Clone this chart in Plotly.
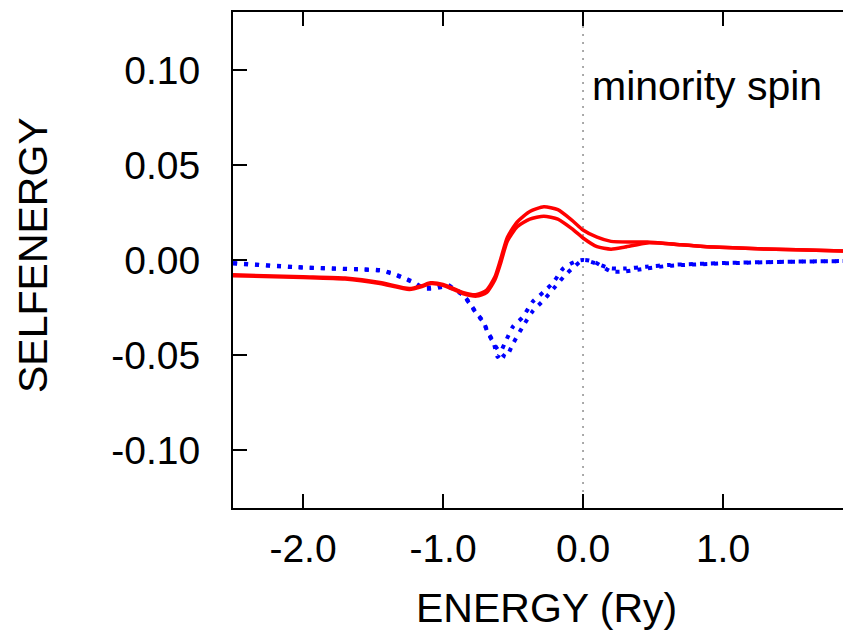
import plotly.graph_objects as go

# ---- data ----
red_upper_E = [-2.5, -2.0, -1.7, -1.45, -1.24, -1.15, -1.09, -1.0, -0.86, -0.76, -0.69, -0.63, -0.59,
               -0.54, -0.47, -0.38, -0.28, -0.18, -0.08, 0.0, 0.1, 0.2, 0.35, 0.46, 0.7, 0.93, 1.3, 1.6, 1.914]
red_upper_S = [-0.0078, -0.0088, -0.0095, -0.0118, -0.0150, -0.0135, -0.0120, -0.0128, -0.0170, -0.0182,
               -0.0160, -0.0090, 0.0000, 0.0120, 0.0200, 0.0255, 0.0280, 0.0265, 0.0210, 0.0158, 0.0120,
               0.0098, 0.0095, 0.0095, 0.0080, 0.0068, 0.0058, 0.0052, 0.0046]

red_lower_E = [-2.5, -2.0, -1.7, -1.45, -1.24, -1.15, -1.09, -1.0, -0.86, -0.76, -0.69, -0.63, -0.59,
               -0.54, -0.47, -0.38, -0.28, -0.18, -0.08, 0.0, 0.1, 0.2, 0.3, 0.46, 0.7, 0.93, 1.3, 1.6, 1.914]
red_lower_S = [-0.0083, -0.0092, -0.0100, -0.0124, -0.0155, -0.0140, -0.0124, -0.0133, -0.0176, -0.0190,
               -0.0172, -0.0105, -0.0020, 0.0100, 0.0175, 0.0215, 0.0230, 0.0215, 0.0165, 0.0116, 0.0070,
               0.0057, 0.0068, 0.0090, 0.0080, 0.0068, 0.0058, 0.0052, 0.0046]

blue_a_E = [-2.5, -2.04, -1.57, -1.45, -1.36, -1.29, -1.21, -1.14, -1.06, -0.97, -0.93, -0.86, -0.81,
            -0.76, -0.71, -0.68, -0.64, -0.61, -0.56, -0.50, -0.43, -0.36, -0.28, -0.21, -0.14, -0.06,
            0.0, 0.1, 0.19, 0.3, 0.45, 0.62, 1.0, 1.4, 1.914]
blue_a_S = [-0.0016, -0.0037, -0.0049, -0.0053, -0.0070, -0.0090, -0.0116, -0.0147, -0.0142, -0.0130,
            -0.0147, -0.0180, -0.0226, -0.0280, -0.0326, -0.0380, -0.0430, -0.0510, -0.0440, -0.0350,
            -0.0300, -0.0220, -0.0167, -0.0116, -0.0043, -0.0010, 0.0000, -0.0020, -0.0043, -0.0045,
            -0.0035, -0.0026, -0.0016, -0.0010, -0.0005]

blue_b_E = [-2.5, -2.04, -1.57, -1.45, -1.36, -1.29, -1.21, -1.14, -1.06, -0.97, -0.93, -0.86, -0.81,
            -0.76, -0.71, -0.68, -0.64, -0.60, -0.55, -0.50, -0.43, -0.36, -0.28, -0.21, -0.14, -0.07,
            0.0, 0.08, 0.2, 0.3, 0.45, 0.62, 1.0, 1.4, 1.914]
blue_b_S = [-0.0018, -0.0039, -0.0051, -0.0056, -0.0073, -0.0094, -0.0120, -0.0150, -0.0150, -0.0138,
            -0.0152, -0.0184, -0.0230, -0.0284, -0.0330, -0.0384, -0.0435, -0.0480, -0.0510, -0.0440,
            -0.0350, -0.0270, -0.0210, -0.0150, -0.0090, -0.0040, 0.0000, -0.0010, -0.0060, -0.0060,
            -0.0045, -0.0030, -0.0018, -0.0010, -0.0005]

x_tick_vals = [-2.0, -1.0, 0.0, 1.0]
x_tick_text = ["-2.0", "-1.0", "0.0", "1.0"]
y_tick_vals = [-0.10, -0.05, 0.0, 0.05, 0.10]
y_tick_text = ["-0.10", "-0.05", "0.00", "0.05", "0.10"]

FONT = "Liberation Sans, Arial, sans-serif"

fig = go.Figure()
for E, S in [(blue_a_E, blue_a_S), (blue_b_E, blue_b_S)]:
    fig.add_trace(go.Scatter(x=E, y=S, mode="lines",
                             line=dict(color="#0000ff", width=4, dash="4px,7px", shape="spline", smoothing=0.6),
                             showlegend=False, hoverinfo="skip"))
for E, S in [(red_upper_E, red_upper_S), (red_lower_E, red_lower_S)]:
    fig.add_trace(go.Scatter(x=E, y=S, mode="lines",
                             line=dict(color="#ff0000", width=3.5, shape="spline", smoothing=0.6),
                             showlegend=False, hoverinfo="skip"))

fig.add_shape(type="line", xref="x", yref="paper", x0=0, x1=0, y0=0, y1=1,
              line=dict(color="#555555", width=1, dash="2px,6px"), layer="below")

fig.add_annotation(x=0.05, y=0.0915, xref="x", yref="y", text="minority spin",
                   showarrow=False, xanchor="left", yanchor="middle",
                   font=dict(family=FONT, size=41, color="black"))
fig.add_annotation(x=0.508, y=-0.202, xref="paper", yref="paper", text="ENERGY (Ry)",
                   showarrow=False, xanchor="center", yanchor="middle",
                   font=dict(family=FONT, size=41, color="black"))
fig.add_annotation(x=-0.3237, y=0.510, xref="paper", yref="paper", text="SELFENERGY",
                   showarrow=False, xanchor="center", yanchor="middle", textangle=-90,
                   font=dict(family=FONT, size=41, color="black"))

fig.update_xaxes(range=[-2.5, 1.914], tickvals=x_tick_vals, ticktext=x_tick_text,
                 ticks="inside", ticklen=14, tickwidth=2, tickcolor="black",
                 showline=True, linewidth=2, linecolor="black", mirror="ticks",
                 showgrid=False, zeroline=False, ticklabelstandoff=5,
                 tickfont=dict(family=FONT, size=39, color="black"))
fig.update_yaxes(range=[-0.1305, 0.1305], tickvals=y_tick_vals, ticktext=y_tick_text,
                 ticks="inside", ticklen=14, tickwidth=2, tickcolor="black",
                 showline=True, linewidth=2, linecolor="black",
                 showgrid=False, zeroline=False, ticklabelstandoff=23,
                 tickfont=dict(family=FONT, size=39, color="black"))

# page body has an 8px default margin, so the figure is sized/offset to compensate
fig.update_layout(width=843, height=628, margin=dict(l=225, r=0, t=4, b=128),
                  paper_bgcolor="white", plot_bgcolor="white", showlegend=False)

fig.write_html("out.html")
